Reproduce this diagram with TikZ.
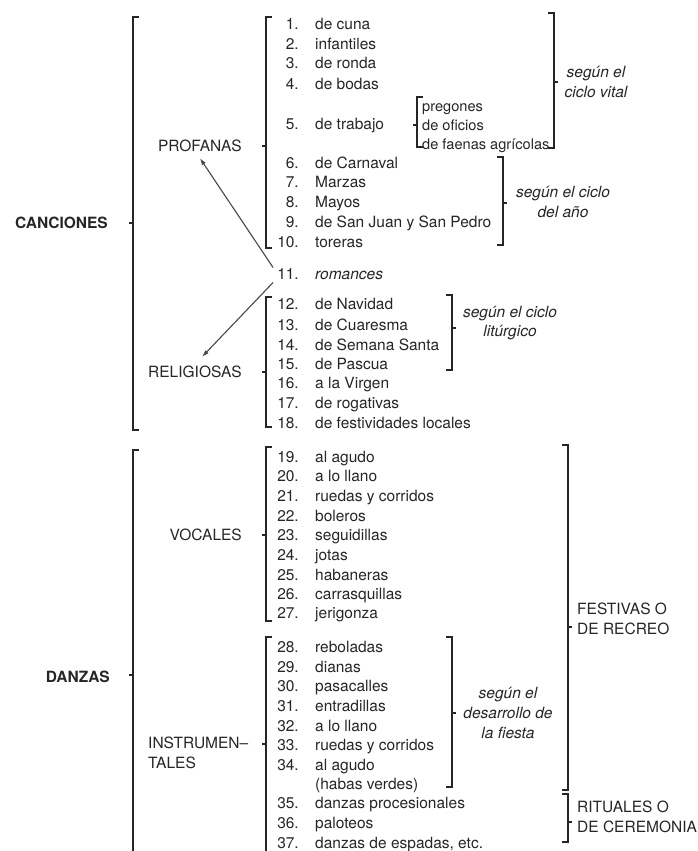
\documentclass[tikz,border=0pt]{standalone}
\usepackage{fontspec}
\setmainfont{TeX Gyre Heros}
\usetikzlibrary{arrows.meta}

\definecolor{ink}{HTML}{262626}

% bracket opening to the right, nub to the left: x, top, bottom, middle
\newcommand{\bracketL}[4]{%
  \draw[brk] (#1+6,#2) -- (#1,#2) -- (#1,#3) -- (#1+6,#3);
  \draw[brk] (#1,#4) -- (#1-4,#4);}
% bracket opening to the left, nub to the right
\newcommand{\bracketR}[4]{%
  \draw[brk] (#1-6,#2) -- (#1,#2) -- (#1,#3) -- (#1-6,#3);
  \draw[brk] (#1,#4) -- (#1+4,#4);}

\begin{document}
\begin{tikzpicture}[x=1pt, y=-1pt, >=Latex,
    font=\fontsize{15.5}{19.6}\selectfont, text=ink,
    brk/.style={draw=ink, line width=1.2pt},
    arr/.style={-{Latex[length=7pt,width=4.5pt]}, draw=ink!85, line width=1.1pt},
    num/.style={anchor=base east, inner sep=0pt},
    itm/.style={anchor=base west, inner sep=0pt},
    sub/.style={anchor=base west, inner sep=0pt, font=\fontsize{14.6}{19.6}\selectfont},
    grp/.style={inner sep=0pt},
    head/.style={inner sep=0pt, font=\fontsize{15.5}{19.6}\selectfont\bfseries},
    sel/.style={inner sep=0pt, align=center, font=\fontsize{15.5}{19.6}\selectfont\itshape}]
  \useasboundingbox (0,0) rectangle (697,851);
  \fill[white] (0,0) rectangle (697,851);

  % numbered items
  \foreach \n/\y/\t in {1/25/de cuna, 2/45/infantiles, 3/64/de ronda, 4/84/de bodas,
      5/124/de trabajo, 6/163/de Carnaval, 7/182/Marzas, 8/202/Mayos,
      9/222/de San Juan y San Pedro, 10/242/toreras, 11/274/{\itshape romances},
      12/304/de Navidad, 13/325/de Cuaresma, 14/345/de Semana Santa,
      15/364/de Pascua, 16/383/a la Virgen, 17/403/de rogativas,
      18/423/de festividades locales, 19/457/al agudo, 20/476/a lo llano,
      21/496/ruedas y corridos, 22/516/boleros, 23/535/seguidillas,
      24/555/jotas, 25/575/habaneras, 26/594/carrasquillas, 27/613/jerigonza,
      28/647/reboladas, 29/667/dianas, 30/686/pasacalles, 31/706/entradillas,
      32/726/a lo llano, 33/745/ruedas y corridos, 34/765/al agudo,
      35/803/danzas procesionales, 36/823/paloteos,
      37/843/{danzas de espadas, etc.}}
  {
    \node[num] (n\n) at (299,\y+5) {\n.};
    \node[itm] (i\n) at (315,\y+5) {\t};
  }
  \node[itm] (i34b) at (315,789) {(habas verdes)};

  % work songs
  \node[sub] (t1) at (422,111) {pregones};
  \node[sub] (t2) at (422,130) {de oficios};
  \node[sub] (t3) at (422,149) {de faenas agrícolas};

  % group labels
  \node[head, anchor=east] (canciones) at (108,223) {CANCIONES};
  \node[head, anchor=east] (danzas) at (110,677) {DANZAS};
  \node[grp, anchor=east] (profanas) at (242,146) {PROFANAS};
  \node[grp, anchor=east] (religiosas) at (242,372) {RELIGIOSAS};
  \node[grp, anchor=east] (vocales) at (242,535) {VOCALES};
  \node[grp, anchor=west, align=left] (instrumentales) at (148,753) {INSTRUMEN--\\TALES};

  % criteria
  \node[sel] (vital) at (596,82) {según el\\ciclo vital};
  \node[sel] (anno) at (563,202) {según el ciclo\\del año};
  \node[sel] (liturgico) at (510,323) {según el ciclo\\litúrgico};
  \node[sel] (fiesta) at (508,713) {según el\\desarrollo de\\la fiesta};
  \node[grp, anchor=west, align=left] (festivas) at (577,619) {FESTIVAS O\\DE RECREO};
  \node[grp, anchor=west, align=left] (rituales) at (577,817) {RITUALES O\\DE CEREMONIA};

  % brackets
  \bracketL{133}{17}{430}{223}
  \bracketL{133}{450}{870}{675}
  \bracketL{266}{17}{248}{146}
  \bracketL{266}{297}{427}{372}
  \bracketL{266}{447}{621}{535}
  \bracketL{266}{637}{870}{744}
  \bracketL{417}{97}{147}{125}
  \bracketR{554}{13}{148}{82}
  \bracketR{503}{157}{245}{203}
  \bracketR{452}{295}{370}{328}
  \bracketR{452}{637}{787}{713}
  \bracketR{568}{445}{790}{627}
  \bracketR{568}{794}{842}{822}

  % romances go both ways
  \draw[arr] ([shift={(-4pt,6pt)}]n11.west) -- ([yshift=-6pt]profanas.south);
  \draw[arr] ([shift={(-4pt,-9pt)}]n11.west) -- ([shift={(7pt,9pt)}]religiosas.north);
\end{tikzpicture}
\end{document}
